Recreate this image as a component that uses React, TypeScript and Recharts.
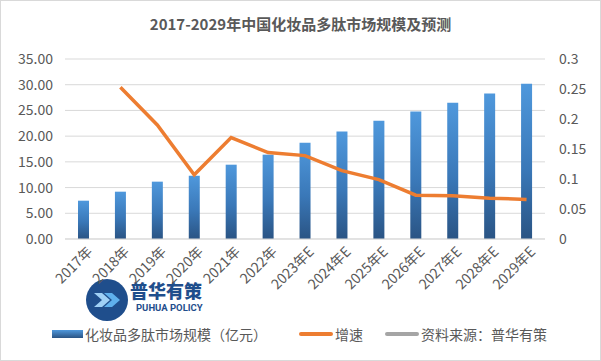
import React from "react";
import { ComposedChart, Bar, Line, XAxis, YAxis, CartesianGrid } from "recharts";

const categories = ["2017年", "2018年", "2019年", "2020年", "2021年", "2022年", "2023年E", "2024年E", "2025年E", "2026年E", "2027年E", "2028年E", "2029年E"];
const marketSize = [7.45, 9.2, 11.15, 12.3, 14.45, 16.4, 18.7, 20.9, 23.0, 24.8, 26.5, 28.3, 30.2];
const growth = [null, 0.253, 0.19, 0.107, 0.169, 0.144, 0.139, 0.114, 0.099, 0.073, 0.072, 0.068, 0.066];
const leftTicks = [0, 5, 10, 15, 20, 25, 30, 35];
const rightTicks = [0, 0.05, 0.1, 0.15, 0.2, 0.25, 0.3];

const data = categories.map((c, i) => ({ name: c, size: marketSize[i], growth: growth[i] }));

const FONT = '"Microsoft YaHei", "Noto Sans CJK SC", sans-serif';
const GRAY = "#595959";

const XTick = (props: any) => {
  const { x, y, payload } = props;
  return (
    <text
      x={x}
      y={y}
      dx={3}
      dy={11}
      textAnchor="end"
      transform={`rotate(-45, ${x}, ${y})`}
      fill={GRAY}
      fontSize={14}
      fontFamily={FONT}
    >
      {payload.value}
    </text>
  );
};

export default function App() {
  return (
    <div
      style={{
        position: "absolute",
        left: 0,
        top: 0,
        width: 599,
        height: 359,
        border: "1px solid #d9d9d9",
        background: "#fff",
        fontFamily: FONT,
        overflow: "hidden",
      }}
    >
      <div
        style={{
          position: "absolute",
          top: 12,
          left: 0,
          width: 599,
          textAlign: "center",
          fontSize: 15,
          fontWeight: "bold",
          color: GRAY,
        }}
      >
        2017-2029年中国化妆品多肽市场规模及预测
      </div>
      {/* watermark logo (behind chart text) */}
      <div style={{ position: "absolute", left: 85, top: 278, width: 42, height: 42, borderRadius: "50%", background: "#1f4e8c" }}>
        <svg width={42} height={42} style={{ position: "absolute", left: 0, top: 0 }}>
          <polygon points="8,14 16,14 24,21 16,28 8,28 16,21" fill="#9fd0f5" />
          <polygon points="18,14 26,14 34,21 26,28 18,28 26,21" fill="#5fb0ec" />
        </svg>
      </div>
      <div style={{ position: "absolute", left: 129, top: 280, fontSize: 18, lineHeight: "19px", fontWeight: 900, color: "#1f4e8c", whiteSpace: "nowrap" }}>
        普华有策
      </div>
      <div style={{ position: "absolute", left: 135, top: 302, fontSize: 9.5, lineHeight: "10px", fontWeight: "bold", color: "#1f4e8c", fontFamily: "Roboto, sans-serif", whiteSpace: "nowrap" }}>
        PUHUA POLICY
      </div>
      <div style={{ position: "absolute", left: -1, top: -1 }}>
        <ComposedChart
          width={601}
          height={361}
          data={data}
          margin={{ top: 59, right: 0, left: 0, bottom: 0 }}
        >
          <defs>
            <linearGradient id="barGrad" x1="0" y1="0" x2="0" y2="1">
              <stop offset="0%" stopColor="#4f98dc" />
              <stop offset="55%" stopColor="#3a78b8" />
              <stop offset="100%" stopColor="#2a5484" />
            </linearGradient>
          </defs>
          <CartesianGrid vertical={false} stroke="#d9d9d9" yAxisId="left" />
          <XAxis
            dataKey="name"
            height={122}
            interval={0}
            tickLine={false}
            axisLine={{ stroke: "#d9d9d9" }}
            tick={<XTick />}
          />
          <YAxis
            yAxisId="left"
            orientation="left"
            width={65}
            domain={[0, 35]}
            ticks={leftTicks}
            tickFormatter={(v: number) => v.toFixed(2)}
            axisLine={false}
            tickLine={false}
            tick={{ fill: GRAY, fontSize: 14, fontFamily: FONT }}
            tickMargin={6}
          />
          <YAxis
            yAxisId="right"
            orientation="right"
            width={56}
            domain={[0, 0.3]}
            ticks={rightTicks}
            tickFormatter={(v: number) => String(Number(v.toFixed(2)))}
            axisLine={false}
            tickLine={false}
            tick={{ fill: GRAY, fontSize: 14, fontFamily: FONT, textAnchor: "start" }}
            tickMargin={8}
          />
          <Bar
            yAxisId="left"
            dataKey="size"
            barSize={11}
            fill="url(#barGrad)"
            isAnimationActive={false}
          />
          <Line
            yAxisId="right"
            dataKey="growth"
            stroke="#ed7d31"
            strokeWidth={3.5}
            dot={false}
            connectNulls
            isAnimationActive={false}
          />
        </ComposedChart>
      </div>
      {/* legend */}
      <div style={{ position: "absolute", left: 0, top: 323, width: 599, height: 22, fontSize: 14, color: GRAY, whiteSpace: "nowrap" }}>
        <div style={{ position: "absolute", left: 51, top: 6, width: 31, height: 8, background: "linear-gradient(#4f98dc, #2a5484)" }} />
        <div style={{ position: "absolute", left: 84, top: 0 }}>化妆品多肽市场规模（亿元）</div>
        <div style={{ position: "absolute", left: 298, top: 8, width: 34, height: 4, borderRadius: 2, background: "#ed7d31" }} />
        <div style={{ position: "absolute", left: 334, top: 0 }}>增速</div>
        <div style={{ position: "absolute", left: 384, top: 8, width: 34, height: 4, borderRadius: 2, background: "#a5a5a5" }} />
        <div style={{ position: "absolute", left: 420, top: 0 }}>资料来源：普华有策</div>
      </div>
    </div>
  );
}
